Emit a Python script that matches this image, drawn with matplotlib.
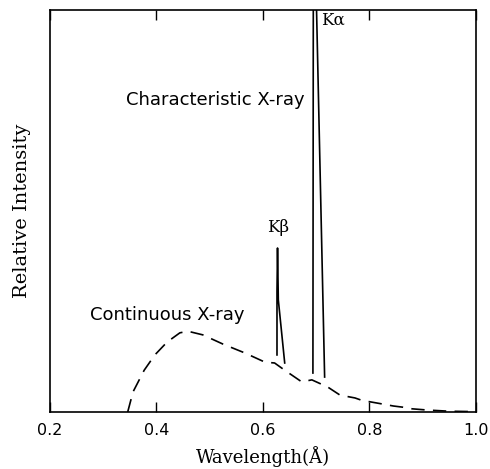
import matplotlib
matplotlib.use("Agg")
import matplotlib.pyplot as plt

# Continuous X-ray (dashed)
cont_wl = [0.346, 0.356, 0.377, 0.397, 0.420, 0.444, 0.459, 0.487, 0.525,
           0.566, 0.604, 0.622, 0.641, 0.673, 0.692, 0.722, 0.745, 0.773,
           0.786, 0.820, 0.845, 0.863, 0.880, 0.908, 0.950, 0.995]
cont_int = [0.0, 0.050, 0.104, 0.142, 0.174, 0.197, 0.201, 0.192, 0.169,
            0.147, 0.124, 0.122, 0.104, 0.075, 0.080, 0.062, 0.042, 0.035,
            0.029, 0.021, 0.015, 0.012, 0.008, 0.005, 0.002, 0.001]

# K-beta peak (solid)
kb_wl = [0.6265, 0.6265, 0.6275, 0.629, 0.641]
kb_int = [0.142, 0.300, 0.408, 0.279, 0.122]

# K-alpha peak (solid, apex above the frame)
ka_wl = [0.694, 0.695, 0.716]
ka_int = [0.097, 1.35, 0.087]

xticks = [0.2, 0.4, 0.6, 0.8, 1.0]
xtick_labels = ["0.2", "0.4", "0.6", "0.8", "1.0"]

fig = plt.figure(figsize=(4.9, 4.69), dpi=100)
ax = fig.add_axes([0.102, 0.1215, 0.869, 0.857])

ax.plot(cont_wl, cont_int, color="black", lw=1.2, ls=(0, (8, 5)))
ax.plot(kb_wl, kb_int, color="black", lw=1.2)
ax.plot(ka_wl, ka_int, color="black", lw=1.2)

ax.set_xlim(0.2, 1.0)
ax.set_ylim(0, 1.0)
ax.set_xticks(xticks)
ax.set_xticklabels(xtick_labels, fontsize=11.5)
ax.set_yticks([])
ax.tick_params(axis="x", direction="in", length=7, width=1, top=True, pad=8)
for s in ax.spines.values():
    s.set_linewidth(1.2)

ax.set_xlabel("Wavelength(Å)", family="DejaVu Serif", fontsize=13, labelpad=6)
ax.set_ylabel("Relative Intensity", family="DejaVu Serif", fontsize=14, labelpad=14)

ax.text(0.709, 0.975, "Kα", family="DejaVu Serif", fontsize=12, ha="left", va="center")
ax.text(0.679, 0.776, "Characteristic X-ray", fontsize=13, ha="right", va="center")
ax.text(0.628, 0.458, "Kβ", family="DejaVu Serif", fontsize=12, ha="center", va="center")
ax.text(0.566, 0.241, "Continuous X-ray", fontsize=13, ha="right", va="center")

fig.savefig("out.png", dpi=100)
